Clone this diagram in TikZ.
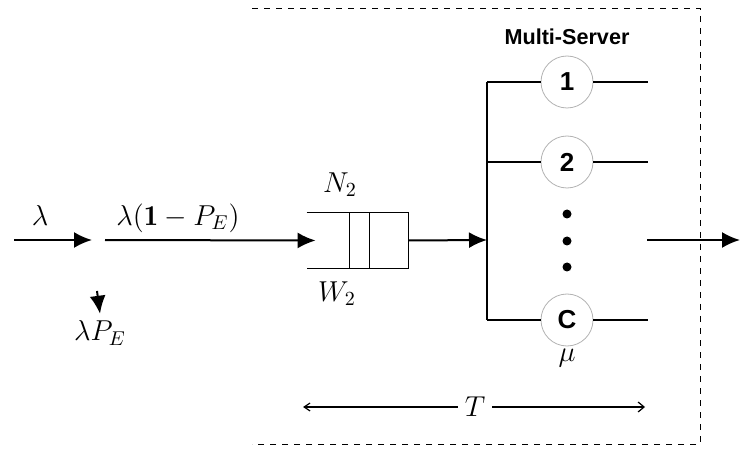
\documentclass[tikz,border=0pt]{standalone}
\usepackage{fontspec}
\setsansfont{Liberation Sans}
\usetikzlibrary{arrows.meta,positioning}

\begin{document}
\begin{tikzpicture}[
  x=0.5pt, y=-0.5pt,
  flow/.style={-{Latex[length=9pt,width=8pt]},line width=1pt},
  wire/.style={line width=0.7pt},
  srv/.style={circle,draw=gray!60,thin,minimum size=26pt,inner sep=0pt,font=\sffamily\bfseries\fontsize{13}{15}\selectfont},
  dot/.style={circle,fill,inner sep=0pt,minimum size=4.5pt},
  lab/.style={font=\Large},
]
\useasboundingbox (0,0) rectangle (740,449);

% system boundary (open on the left)
\coordinate (bndtl) at (252,8);
\coordinate (bndtr) at (700,8);
\coordinate (bndbr) at (700,444);
\coordinate (bndbl) at (252,444);
\draw[dash pattern=on 3pt off 3pt,thin] (bndtl) -- (bndtr) -- (bndbr) -- (bndbl);

% arrivals and blocking
\coordinate (src) at (14,240);
\coordinate (split) at (92,240);
\coordinate (pass) at (105,240);
\node[lab] (lam) at (40,216) {$\lambda$};
\draw[flow] (src) -- (split);
\node[lab] (lamin) at (178,218) {$\lambda(\mathbf{1}-P_{E})$};
\coordinate (drop) at (97,291);
\node[lab] (lamblk) at (100,333) {$\lambda P_{E}$};
\draw[flow] (drop) -- (lamblk.north);

% waiting line
\node[minimum width=50.5pt,minimum height=27.5pt,inner sep=0pt] (queue) at (357.5,240.5) {};
\draw[wire] (queue.north west) -- (queue.north east) -- (queue.south east) -- (queue.south west);
\draw[wire] ([xshift=21.5pt]queue.north west) -- ([xshift=21.5pt]queue.south west);
\draw[wire] ([xshift=31.5pt]queue.north west) -- ([xshift=31.5pt]queue.south west);
\node[lab] (nq) at (340,185) {$N_{2}$};
\node[lab] (wq) at (337,294) {$W_{2}$};
\draw[flow] (pass) -- ([xshift=4.5pt]queue.west);

% servers
\node[font=\sffamily\bfseries\fontsize{10.8}{13}\selectfont] (title) at (567,37) {Multi-Server};
\node[srv] (s1) at (567,82) {1};
\node[srv] (s2) at (567,162) {2};
\node[srv] (sc) at (567,320) {C};
\node[dot] (d1) at (567,214) {};
\node[dot] (d2) at (567,241) {};
\node[dot] (d3) at (567,267) {};
\node[lab] (mu) at (567,358) {$\mu$};

\coordinate (bus1) at (487,82);
\coordinate (bus2) at (487,162);
\coordinate (busc) at (487,320);
\coordinate (busin) at (487,240);
\draw[flow] (queue.east) -- (busin);
\draw[wire] (bus1) -- (busc);
\draw[wire] (bus1) -- (s1.west);
\draw[wire] (bus2) -- (s2.west);
\draw[wire] (busc) -- (sc.west);

\coordinate (o1) at (648,82);
\coordinate (o2) at (648,162);
\coordinate (oc) at (648,320);
\coordinate (out) at (647,240);
\coordinate (sink) at (740,240);
\draw[wire] (s1.east) -- (o1);
\draw[wire] (s2.east) -- (o2);
\draw[wire] (sc.east) -- (oc);
\draw[flow] (out) -- (sink);

% time in system
\node[lab] (T) at (475,407) {$T$};
\coordinate (tl) at (303,407);
\coordinate (tr) at (645,407);
\draw[{Straight Barb[length=3pt,width=4pt]}-,line width=0.6pt] (tl) -- (T.west);
\draw[-{Straight Barb[length=3pt,width=5pt]},line width=0.6pt] (T.east) -- (tr);
\end{tikzpicture}
\end{document}
